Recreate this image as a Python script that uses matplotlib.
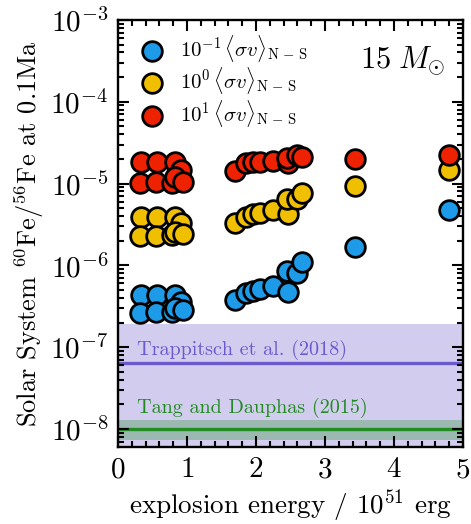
import numpy as np
import matplotlib
matplotlib.use('Agg')
import matplotlib.pyplot as plt
from matplotlib.ticker import MultipleLocator, LogLocator, NullFormatter

plt.rcParams['mathtext.fontset'] = 'cm'
plt.rcParams['font.family'] = 'serif'
plt.rcParams['font.serif'] = ['cmr10', 'DejaVu Serif']
plt.rcParams['axes.formatter.use_mathtext'] = True

# 15 Msun models: explosion energy (1e51 erg) and 60Fe/56Fe at 0.1 Ma
energy = [0.34, 0.32, 0.56, 0.55, 0.83, 0.92, 0.78, 0.83, 0.94,
          1.70, 1.86, 1.96, 2.06, 2.25, 2.47, 2.45, 2.60, 2.66,
          3.43, 4.79]
fe_low = [4.35e-7, 2.60e-7, 4.35e-7, 2.67e-7, 4.35e-7, 3.60e-7, 2.72e-7, 2.98e-7, 2.85e-7,
          3.78e-7, 4.56e-7, 4.91e-7, 5.10e-7, 5.60e-7, 4.77e-7, 8.60e-7, 8.14e-7, 1.09e-6,
          1.69e-6, 4.75e-6]
fe_mid = [3.94e-6, 2.31e-6, 3.94e-6, 2.31e-6, 3.94e-6, 3.30e-6, 2.35e-6, 2.54e-6, 2.40e-6,
          3.33e-6, 3.94e-6, 4.21e-6, 4.41e-6, 4.75e-6, 4.25e-6, 6.49e-6, 6.43e-6, 7.75e-6,
          9.35e-6, 1.47e-5]
fe_high = [1.85e-5, 1.02e-5, 1.85e-5, 1.04e-5, 1.82e-5, 1.47e-5, 1.02e-5, 1.21e-5, 1.05e-5,
           1.44e-5, 1.77e-5, 1.82e-5, 1.85e-5, 1.91e-5, 1.77e-5, 2.04e-5, 2.24e-5, 2.13e-5,
           2.00e-5, 2.24e-5]

# meteoritic constraints: (value, lower, upper)
trappitsch = (6.4e-8, 1e-9, 1.9e-7)
tang = (1.01e-8, 0.74e-8, 1.28e-8)

fig = plt.figure(figsize=(4.71, 5.24), dpi=100)
ax = fig.add_axes([0.2505, 0.147, 0.7325, 0.815])

ax.axhspan(trappitsch[1], trappitsch[2], color='slateblue', alpha=0.3, lw=0, zorder=0)
ax.axhline(trappitsch[0], color='slateblue', lw=2.4, zorder=1)
ax.axhspan(tang[1], tang[2], color='forestgreen', alpha=0.3, lw=0, zorder=0)
ax.axhline(tang[0], color='forestgreen', lw=2.4, zorder=1)
ax.text(0.27, 8.0e-8, 'Trappitsch et al. (2018)', color='slateblue', fontsize=14.5)
ax.text(0.27, 1.55e-8, 'Tang and Dauphas (2015)', color='forestgreen', fontsize=14.5)

kw = dict(s=200, edgecolors='k', linewidths=2.0, zorder=3)
sub = r'\langle\sigma v\rangle_{\rm N\,-\,S}$'
ax.scatter(energy, fe_low, c='#1e9be8', label=r'$10^{-1}\,' + sub, **kw)
ax.scatter(energy, fe_mid, c='#f0c000', label=r'$10^{0}\,' + sub, **kw)
ax.scatter(energy, fe_high, c='#ee2200', label=r'$10^{1}\,' + sub, **kw)

ax.set_yscale('log')
ax.set_xlim(0, 5)
ax.set_ylim(10**-8.22, 1e-3)
ax.xaxis.set_major_locator(MultipleLocator(1))
ax.xaxis.set_minor_locator(MultipleLocator(0.2))
ax.yaxis.set_major_locator(LogLocator(base=10, numticks=20))
ax.yaxis.set_minor_locator(LogLocator(base=10, subs=np.arange(2, 10), numticks=20))
ax.yaxis.set_minor_formatter(NullFormatter())
ax.tick_params(which='both', direction='in', top=True, right=True, width=1.5)
ax.tick_params(which='major', length=8, labelsize=21, pad=7)
ax.tick_params(which='minor', length=4.5)
for s in ax.spines.values():
    s.set_linewidth(1.7)

ax.set_xlabel(r'explosion energy / $10^{51}$ erg', fontsize=19.5, labelpad=3)
ax.set_ylabel(r'Solar System $^{60}$Fe/$^{56}$Fe at 0.1Ma', fontsize=19, labelpad=3)

ax.text(0.948, 0.888, r'$15\;M_{\odot}$', transform=ax.transAxes, ha='right', va='baseline',
        fontsize=22)
ax.legend(loc='upper left', frameon=False, fontsize=15, handletextpad=0.35,
          borderaxespad=0.2, labelspacing=0.05, scatterpoints=1, borderpad=0.45)

fig.savefig('out.png', dpi=100)
